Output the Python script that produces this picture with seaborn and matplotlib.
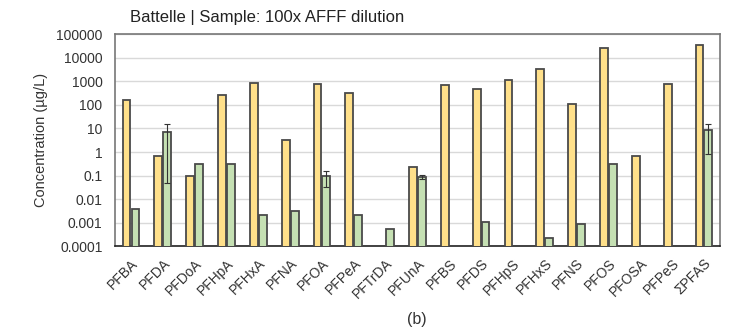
import numpy as np
import pandas as pd
import matplotlib
matplotlib.use("Agg")
import matplotlib.pyplot as plt
from matplotlib.ticker import FixedLocator, FuncFormatter, NullLocator
import seaborn as sns

# data
compounds = ["PFBA", "PFDA", "PFDoA", "PFHpA", "PFHxA", "PFNA", "PFOA", "PFPeA",
             "PFTrDA", "PFUnA", "PFBS", "PFDS", "PFHpS", "PFHxS", "PFNS", "PFOS",
             "PFOSA", "PFPeS", "\u03a3PFAS"]
series_names = ["A", "B"]
vals_a = [160, 0.7, 0.1, 275, 830, 3.1, 780, 310,
          np.nan, 0.23, 700, 460, 1150, 3300, 110, 25000,
          0.66, 750, 35000]
vals_b = [0.0037, 7.4, 0.32, 0.32, 0.0022, 0.0033, 0.093, 0.0022,
          0.00055, 0.089, np.nan, 0.0011, np.nan, 0.00022, 0.00093, 0.31,
          np.nan, np.nan, 8.3]
err_b = [0, 7.35, 0, 0, 0, 0, 0.06, 0,
         0, 0.02, 0, 0, 0, 0, 0, 0,
         0, 0, 7.5]

colors = {"A": "#FFE08A", "B": "#C5E0B3"}

sns.set_style("white")
plt.rcParams['font.family'] = ['Liberation Sans', 'DejaVu Sans']

df = pd.DataFrame({
    "compound": compounds * 2,
    "series": ["A"] * len(compounds) + ["B"] * len(compounds),
    "value": vals_a + vals_b,
}).dropna()

fig = plt.figure(figsize=(7.33, 3.34), dpi=100)
ax = fig.add_axes([0.157, 0.262, 0.825, 0.636])

sns.barplot(data=df, x="compound", y="value", hue="series", order=compounds,
            hue_order=series_names, palette=colors, saturation=1, width=0.56,
            gap=0.12, errorbar=None, edgecolor="#4a4a4a", linewidth=1.3,
            legend=False, ax=ax, zorder=3)
ax.set_yscale("log")
ax.set_ylim(1e-4, 1e5)

# error bars on series B
x_pos = np.arange(len(compounds)) + 0.14
for x, v, e in zip(x_pos, vals_b, err_b):
    if e > 0 and not np.isnan(v):
        ax.errorbar(x, v, yerr=e, fmt="none", ecolor="#333333", elinewidth=0.8,
                    capsize=2.5, capthick=0.8, zorder=4)

ax.yaxis.set_major_locator(FixedLocator([10.0 ** k for k in range(-4, 6)]))
ax.yaxis.set_minor_locator(NullLocator())
ax.yaxis.set_major_formatter(FuncFormatter(lambda v, p: f"{v:g}"))
ax.grid(axis="y", color="#d9d9d9", linewidth=1.0, zorder=0)
ax.set_axisbelow(True)
ax.set_xlim(-0.5, len(compounds) - 0.5)

ax.tick_params(axis="y", labelsize=10, colors="#333333", length=0, pad=9)
ax.tick_params(axis="x", labelsize=10, colors="#333333", length=0, pad=7)
plt.setp(ax.get_xticklabels(), rotation=45, ha="right", rotation_mode="anchor")
ax.set_xlabel("")
ax.set_ylabel("Concentration (\u00b5g/L)", fontsize=10.5, color="#333333", labelpad=6)

for s in ["top", "right", "left"]:
    ax.spines[s].set_color("#777777")
    ax.spines[s].set_linewidth(1.2)
ax.spines["bottom"].set_color("#222222")
ax.spines["bottom"].set_linewidth(1.2)

fig.text(0.177, 0.935, "Battelle | Sample: 100x AFFF dilution", fontsize=12, color="#222222")
fig.text(0.568, 0.03, "(b)", fontsize=11.5, color="#333333", ha="center")

fig.savefig("out.png", dpi=100)
